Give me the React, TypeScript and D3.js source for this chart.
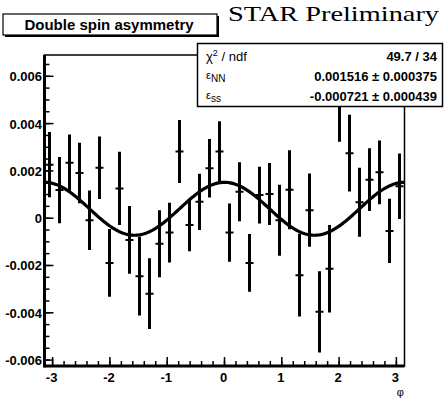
import React from "react";
import * as d3 from "d3";

// double spin asymmetry per phi bin (36 bins over [-pi, pi])
const asymmetry = [
  0.00226, 0.00119, 0.00234, 0.00191, -0.00009, 0.00213, -0.00189, 0.00126, -0.00092,
  -0.00245, -0.00319, -0.00108, -0.00061, 0.00282, -0.00029, 0.00069, 0.00211, 0.00282,
  -0.00061, 0.00112, -0.00189, 0.00098, 0.00102, -0.00009, 0.0012, -0.00241, 0.00034,
  -0.00396, -0.00214, 0.00502, 0.00275, 0.00067, 0.00163, 0.00194, -0.00054, 0.00135,
];
const asymmetryErr = [
  0.00138, 0.0014, 0.0012, 0.00128, 0.00126, 0.00132, 0.00143, 0.00155, 0.00143,
  0.00166, 0.0015, 0.00142, 0.00126, 0.00133, 0.00111, 0.00119, 0.00124, 0.00128,
  0.00123, 0.00125, 0.00122, 0.0012, 0.00131, 0.0015, 0.00167, 0.00175, 0.00155,
  0.00172, 0.00185, 0.00179, 0.00162, 0.00146, 0.00133, 0.00135, 0.00136, 0.00138,
];

const yTicks = [-0.006, -0.004, -0.002, 0, 0.002, 0.004, 0.006];
const yTickLabels = ["-0.006", "-0.004", "-0.002", "0", "0.002", "0.004", "0.006"];
const xTicks = [-3, -2, -1, 0, 1, 2, 3];
const xTickLabels = ["-3", "-2", "-1", "0", "1", "2", "3"];

// fit result: A(phi) = eNN cos^2(phi) + eSS sin^2(phi)
const epsNN = 0.001516;
const epsSS = -0.000721;
const chi2 = "49.7 / 34";
const epsNNText = "0.001516 \u00b1 0.000375";
const epsSSText = "-0.000721 \u00b1 0.000439";

const W = 445;
const H = 398;
const frame = { left: 44.5, right: 404.5, top: 55, bottom: 366 };
const sans = "'Liberation Sans', Arial, Helvetica, sans-serif";

export default function App() {
  const x = d3.scaleLinear().domain([-Math.PI, Math.PI]).range([frame.left, frame.right]);
  const y = d3.scaleLinear().domain([-0.00625, 0.0069]).range([frame.bottom, frame.top]);
  const binW = (2 * Math.PI) / asymmetry.length;

  const minorY = d3.range(-0.006, 0.00651, 0.0005);
  const minorX = d3.range(-3, 3.01, 0.2);

  const fitPts = d3.range(-Math.PI, Math.PI + 0.001, 0.02);
  const fitLine = d3
    .line<number>()
    .x((p) => x(p))
    .y((p) => y(epsNN * Math.cos(p) ** 2 + epsSS * Math.sin(p) ** 2));

  return (
    <svg
      width={W}
      height={H}
      style={{ position: "absolute", left: 0, top: 0, background: "#fff" }}
      fontFamily={sans}
      fontWeight="bold"
    >
      <defs>
        <clipPath id="frameClip">
          <rect x={frame.left} y={frame.top} width={frame.right - frame.left} height={frame.bottom - frame.top} />
        </clipPath>
      </defs>

      {/* data points */}
      <g clipPath="url(#frameClip)" stroke="#000">
        {asymmetry.map((v, i) => {
          const cx = x(-Math.PI + (i + 0.5) * binW);
          return (
            <g key={i}>
              <line x1={cx} x2={cx} y1={y(v + asymmetryErr[i])} y2={y(v - asymmetryErr[i])} strokeWidth={3} />
              <line x1={cx - 4} x2={cx + 4} y1={y(v)} y2={y(v)} strokeWidth={2} />
            </g>
          );
        })}
        <path d={fitLine(fitPts) || ""} fill="none" strokeWidth={3.2} />
      </g>

      {/* frame */}
      <rect
        x={frame.left}
        y={frame.top}
        width={frame.right - frame.left}
        height={frame.bottom - frame.top}
        fill="none"
        stroke="#000"
        strokeWidth={1.5}
      />
      <line x1={frame.left} x2={frame.left} y1={frame.top} y2={frame.bottom + 1.5} stroke="#000" strokeWidth={3} />
      <line x1={frame.left} x2={frame.right} y1={frame.bottom} y2={frame.bottom} stroke="#000" strokeWidth={3} />

      {/* ticks */}
      <g stroke="#000" strokeWidth={1.5}>
        {minorY.map((t, i) => (
          <line key={"my" + i} x1={frame.left} x2={frame.left + 5} y1={y(t)} y2={y(t)} />
        ))}
        {yTicks.map((t) => (
          <line key={"My" + t} x1={frame.left} x2={frame.left + 9} y1={y(t)} y2={y(t)} />
        ))}
        {minorX.map((t, i) => (
          <line key={"mx" + i} x1={x(t)} x2={x(t)} y1={frame.bottom} y2={frame.bottom - 5} />
        ))}
        {xTicks.map((t) => (
          <line key={"Mx" + t} x1={x(t)} x2={x(t)} y1={frame.bottom} y2={frame.bottom - 9} />
        ))}
      </g>
      <g fontSize={13} textAnchor="end">
        {yTicks.map((t, i) => (
          <text key={t} x={42} y={y(t) + 5}>
            {yTickLabels[i]}
          </text>
        ))}
      </g>
      <g fontSize={13} textAnchor="middle">
        {xTicks.map((t, i) => (
          <text key={t} x={x(t) - 1} y={382}>
            {xTickLabels[i]}
          </text>
        ))}
      </g>
      <text x={404} y={396} fontSize={11} textAnchor="end" fontWeight="normal">
        {"\u03c6"}
      </text>

      {/* title pave */}
      <rect x={5} y={16} width={214} height={21} fill="#000" />
      <rect x={3} y={14} width={214} height={21} fill="#fff" stroke="#000" strokeWidth={1.2} />
      <text x={109} y={30} fontSize={15} textAnchor="middle">
        Double spin asymmetry
      </text>

      <text
        x={228}
        y={21}
        fontSize={22}
        fontWeight="normal"
        fontFamily="'Liberation Serif', 'Times New Roman', serif"
        textLength={211}
        lengthAdjust="spacingAndGlyphs"
      >
        STAR Preliminary
      </text>

      {/* stats box */}
      <rect x={197.5} y={43.5} width={245} height={63} fill="#fff" stroke="#000" strokeWidth={1.5} />
      <g fontSize={13}>
        <text x={206} y={61} fontWeight="normal">
          {"\u03c7"}
          <tspan fontSize={9} dy={-5}>2</tspan>
          <tspan dy={5}>{" / ndf"}</tspan>
        </text>
        <text x={437} y={61} textAnchor="end">
          {chi2}
        </text>
        <text x={206} y={79} fontWeight="normal">
          <tspan fontSize={11}>{"\u03b5"}</tspan>
          <tspan fontSize={10} dy={3}>NN</tspan>
        </text>
        <text x={437} y={81} textAnchor="end">
          {epsNNText}
        </text>
        <text x={206} y={99} fontWeight="normal">
          <tspan fontSize={11}>{"\u03b5"}</tspan>
          <tspan fontSize={10} dy={3}>ss</tspan>
        </text>
        <text x={437} y={101} textAnchor="end">
          {epsSSText}
        </text>
      </g>
    </svg>
  );
}
